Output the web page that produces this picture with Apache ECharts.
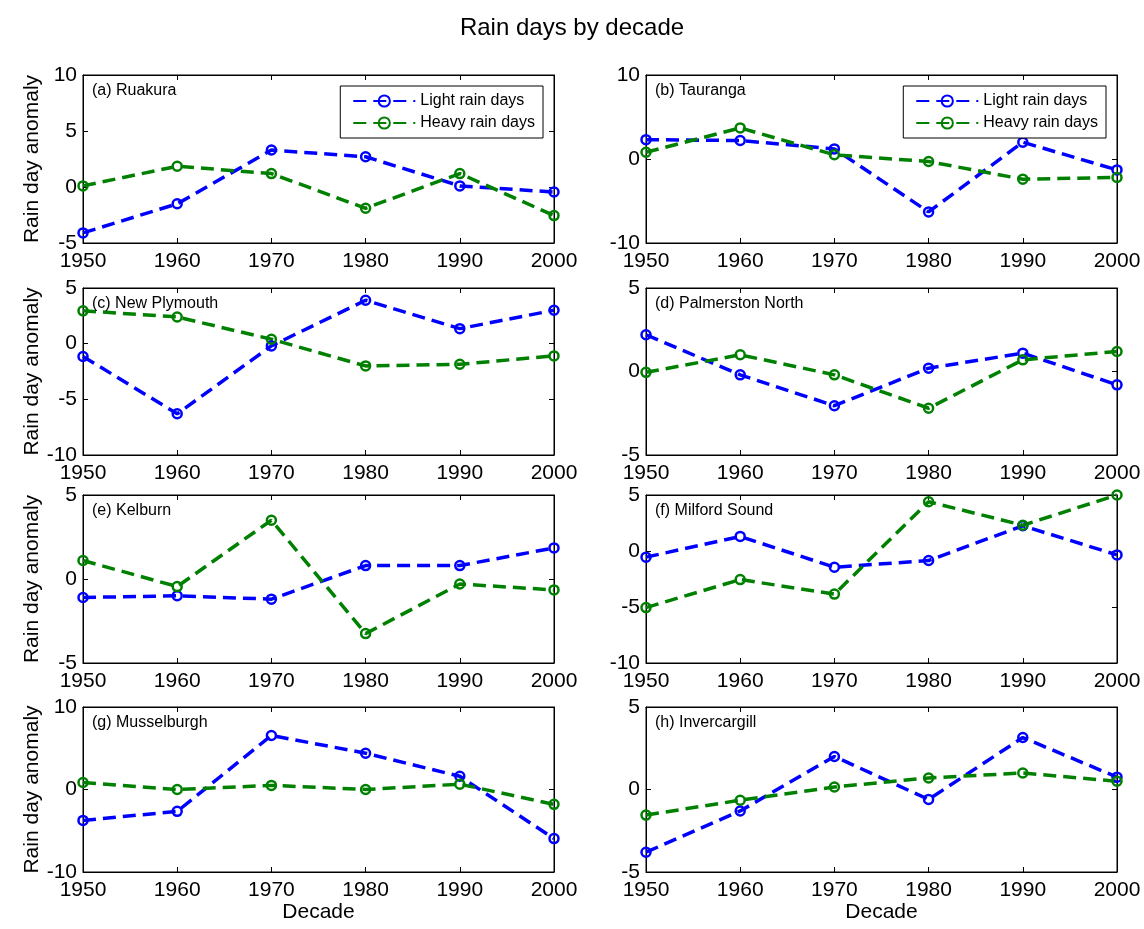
<!DOCTYPE html>
<html>
<head>
<meta charset="utf-8">
<script src="https://cdn.jsdelivr.net/npm/echarts@6/dist/echarts.min.js"></script>
<style>
html,body{margin:0;padding:0;background:#fff;}
#chart{width:1144px;height:929px;}
</style>
</head>
<body>
<div id="chart"></div>
<script>
// ---- data ----
const decades = [1950, 1960, 1970, 1980, 1990, 2000];
const panelTitles = ['(a) Ruakura', '(b) Tauranga', '(c) New Plymouth', '(d) Palmerston North',
                     '(e) Kelburn', '(f) Milford Sound', '(g) Musselburgh', '(h) Invercargill'];
const seriesNames = ['Light rain days', 'Heavy rain days'];

const lightRuakura   = [-4.1, -1.5, 3.3, 2.7, 0.1, -0.45];
const heavyRuakura   = [0.1, 1.85, 1.2, -1.9, 1.2, -2.55];
const lightTauranga  = [2.3, 2.2, 1.2, -6.3, 2.0, -1.3];
const heavyTauranga  = [0.8, 3.7, 0.5, -0.3, -2.4, -2.2];
const lightNewPlym   = [-1.15, -6.3, -0.2, 3.9, 1.35, 3.0];
const heavyNewPlym   = [2.95, 2.4, 0.4, -2.0, -1.85, -1.1];
const lightPalmNth   = [2.2, -0.2, -2.05, 0.2, 1.1, -0.8];
const heavyPalmNth   = [-0.05, 1.0, -0.2, -2.2, 0.7, 1.2];
const lightKelburn   = [-1.1, -1.0, -1.2, 0.8, 0.8, 1.85];
const heavyKelburn   = [1.1, -0.45, 3.5, -3.25, -0.3, -0.65];
const lightMilford   = [-0.55, 1.3, -1.45, -0.85, 2.25, -0.35];
const heavyMilford   = [-5.05, -2.55, -3.85, 4.4, 2.3, 5.0];
const lightMussel    = [-3.75, -2.65, 6.55, 4.4, 1.6, -5.95];
const heavyMussel    = [0.85, 0.0, 0.5, 0.0, 0.65, -1.8];
const lightInverc    = [-3.8, -1.3, 2.0, -0.6, 3.15, 0.75];
const heavyInverc    = [-1.55, -0.65, 0.15, 0.7, 1.0, 0.5];

const lightSets = [lightRuakura, lightTauranga, lightNewPlym, lightPalmNth, lightKelburn, lightMilford, lightMussel, lightInverc];
const heavySets = [heavyRuakura, heavyTauranga, heavyNewPlym, heavyPalmNth, heavyKelburn, heavyMilford, heavyMussel, heavyInverc];

// y-axis tick ranges per panel
const yMins      = [-5, -10, -10, -5, -5, -10, -10, -5];
const yMaxs      = [10, 10, 5, 5, 5, 5, 10, 5];
const yIntervals = [5, 10, 5, 5, 5, 5, 10, 5];

// ---- layout ----
const FONT = "'Liberation Sans', Arial, sans-serif";
const colLeft = [83, 646];
const plotW = 471;
const rowTop = [75, 288, 495, 707];
const rowH = [168, 167, 168, 165];
const BLUE = '#0000ff', GREEN = '#008000';

const grids = [], xAxes = [], yAxes = [], series = [], titles = [], legends = [];

titles.push({
  text: 'Rain days by decade', left: 'center', top: 16, padding: 0,
  textStyle: {fontFamily: FONT, fontSize: 24, fontWeight: 'normal', color: '#000'}
});

for (let i = 0; i < 8; i++) {
  const c = i % 2, r = Math.floor(i / 2);
  grids.push({left: colLeft[c], top: rowTop[r], width: plotW, height: rowH[r],
              show: true, borderColor: '#000', borderWidth: 1, backgroundColor: '#fff'});
  titles.push({
    text: panelTitles[i], left: colLeft[c] + 9, top: rowTop[r] + 8, padding: 0,
    textStyle: {fontFamily: FONT, fontSize: 16, fontWeight: 'normal', color: '#000'}
  });
  xAxes.push({
    type: 'value', gridIndex: i, min: 1950, max: 2000, interval: 10, position: 'bottom',
    name: r === 3 ? 'Decade' : '', nameLocation: 'middle', nameGap: 30,
    nameTextStyle: {fontFamily: FONT, fontSize: 21, color: '#000'},
    axisLine: {show: true, onZero: false, lineStyle: {color: '#000', width: 1}},
    axisTick: {show: true, inside: true, length: 5, lineStyle: {color: '#000'}},
    axisLabel: {show: true, fontFamily: FONT, fontSize: 21, color: '#000', margin: 8,
                formatter: (v) => String(v)},
    splitLine: {show: false}
  });
  yAxes.push({
    type: 'value', gridIndex: i, min: yMins[i], max: yMaxs[i], interval: yIntervals[i], position: 'left',
    name: c === 0 ? 'Rain day anomaly' : '', nameLocation: 'middle', nameGap: 40,
    nameTextStyle: {fontFamily: FONT, fontSize: 21, color: '#000'},
    axisLine: {show: true, onZero: false, lineStyle: {color: '#000', width: 1}},
    axisTick: {show: true, inside: true, length: 5, lineStyle: {color: '#000'}},
    axisLabel: {show: true, fontFamily: FONT, fontSize: 21, color: '#000', margin: 6},
    splitLine: {show: false}
  });
  const mk = (vals) => decades.map((d, k) => [d, vals[k]]);
  const common = (color) => ({
    type: 'line', xAxisIndex: i, yAxisIndex: i,
    symbol: 'circle', symbolSize: 9,
    itemStyle: {color: 'rgba(255,255,255,0)', borderColor: color, borderWidth: 2.5},
    lineStyle: {color: color, width: 3.5, type: [13, 7]},
    emphasis: {disabled: true}, animation: false, z: 3
  });
  series.push(Object.assign(common(BLUE), {name: seriesNames[0], data: mk(lightSets[i])}));
  series.push(Object.assign(common(GREEN), {name: seriesNames[1], data: mk(heavySets[i])}));
}
// secondary (top / right) axes for box ticks
for (let i = 0; i < 8; i++) {
  xAxes.push({type: 'value', gridIndex: i, min: 1950, max: 2000, interval: 10, position: 'top',
    axisLine: {show: true, onZero: false, lineStyle: {color: '#000'}},
    axisTick: {show: true, inside: true, length: 5, lineStyle: {color: '#000'}},
    axisLabel: {show: false}, splitLine: {show: false}});
  yAxes.push({type: 'value', gridIndex: i, min: yMins[i], max: yMaxs[i], interval: yIntervals[i], position: 'right',
    axisLine: {show: true, onZero: false, lineStyle: {color: '#000'}},
    axisTick: {show: true, inside: true, length: 5, lineStyle: {color: '#000'}},
    axisLabel: {show: false}, splitLine: {show: false}});
}

const legendBase = {
  orient: 'vertical', top: 86, itemWidth: 62, itemHeight: 14, itemGap: 6,
  padding: [7, 8, 7, 12], borderColor: '#000', borderWidth: 1, backgroundColor: '#fff',
  selectedMode: false, data: seriesNames,
  textStyle: {fontFamily: FONT, fontSize: 16, color: '#000'}, z: 10
};
legends.push(Object.assign({}, legendBase, {right: 1144 - 543}));
legends.push(Object.assign({}, legendBase, {right: 1144 - 1106}));

const chart = echarts.init(document.getElementById('chart'), null, {renderer: 'canvas'});
chart.setOption({
  backgroundColor: '#fff', animation: false,
  title: titles, legend: legends, grid: grids, xAxis: xAxes, yAxis: yAxes, series: series
});
</script>
</body>
</html>
